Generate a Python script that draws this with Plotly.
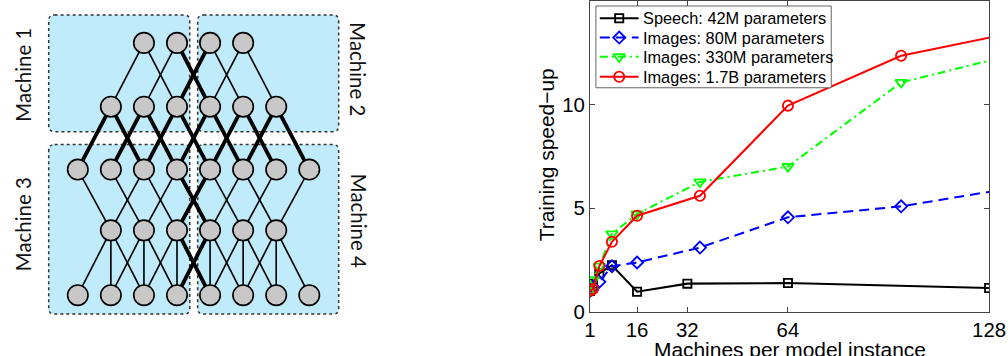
import plotly.graph_objects as go

# ---------------- chart data ----------------
speech_x = [1, 2, 4, 8, 16, 32, 64, 128]
speech_y = [1.0, 1.35, 1.85, 2.25, 0.97, 1.36, 1.39, 1.15]
img80_x = [1, 2, 4, 8, 16, 36, 64, 100, 144]
img80_y = [1.0, 1.2, 1.45, 2.2, 2.38, 3.1, 4.56, 5.09, 6.19]
img330_x = [1, 2, 4, 8, 16, 36, 64, 100, 144]
img330_y = [1.0, 1.55, 2.2, 3.76, 4.72, 6.27, 7.01, 11.07, 12.72]
img17_x = [1, 2, 4, 8, 16, 36, 64, 100, 144]
img17_y = [1.0, 1.1, 2.21, 3.38, 4.64, 5.6, 9.95, 12.36, 13.73]
series_names = ["Speech: 42M parameters", "Images: 80M parameters",
                "Images: 330M parameters", "Images: 1.7B parameters"]
x_ticks = [1, 16, 32, 64, 128]
y_ticks = [0, 5, 10, 15]
x_title = "Machines per model instance"
y_title = "Training speed\u2212up"

# ---------------- diagram data ----------------
layer_columns = [[2, 3, 4, 5], [1, 2, 3, 4, 5, 6], [0, 1, 2, 3, 4, 5, 6, 7],
                 [1, 2, 3, 4, 5, 6], [0, 1, 2, 3, 4, 5, 6, 7]]
link_offsets = [[-1, 1], [-1, 1], [-1, 1], [-1, 0, 1]]
machine_labels = ["Machine 1", "Machine 2", "Machine 3", "Machine 4"]

# ---------------- styles / geometry (in target-picture pixels) ----------------
W, H = 1008, 356
FIG_W, FIG_H = 1024, 367          # rendered size (the snapshot is scaled down to W x H)
K = 1.02                          # size compensation for fonts / markers / lines
COL_X0, COL_DX = 72.3, 33.3
ROW_Y = [42, 106, 169, 230, 295]
BOXES = [(43, 14, 185, 131), (193, 14, 335, 131), (43, 144, 185, 314), (193, 144, 335, 314)]
LABEL_POS = [(17, 74, -90), (355, 68, 90), (17, 224, -90), (355, 220, 90)]

STYLES = [
    dict(color="black", dash="solid", symbol="square-open", size=8),
    dict(color="#0000FF", dash="10px,6px", symbol="diamond-open", size=9),
    dict(color="#00FF00", dash="8px,4px,2px,4px", symbol="triangle-down-open", size=10),
    dict(color="#FF0000", dash="solid", symbol="circle-open", size=10),
]
LEG_BOX = (594, 5, 831, 87)
LEG_ROWS = [17.3, 36.7, 56.0, 76.0]
LEG_LINE = (598, 637)
LEG_TEXT_X = 639

fig = go.Figure()

thin_x, thin_y, thick_x, thick_y = [], [], [], []
for li, offs in enumerate(link_offsets):
    upper, lower = layer_columns[li], layer_columns[li + 1]
    for c in upper:
        for o in offs:
            d = c + o
            if d not in lower:
                continue
            crosses_v = min(c, d) <= 3 and max(c, d) >= 4
            crosses_h = (li == 1)
            xs = [COL_X0 + COL_DX * c, COL_X0 + COL_DX * d, None]
            ys = [ROW_Y[li], ROW_Y[li + 1], None]
            if crosses_v or crosses_h:
                thick_x += xs; thick_y += ys
            else:
                thin_x += xs; thin_y += ys

fig.add_trace(go.Scatter(x=thin_x, y=thin_y, mode="lines", xaxis="x2", yaxis="y2",
                         line=dict(color="black", width=1.6 * K), showlegend=False, hoverinfo="skip"))
fig.add_trace(go.Scatter(x=thick_x, y=thick_y, mode="lines", xaxis="x2", yaxis="y2",
                         line=dict(color="black", width=3.8 * K), showlegend=False, hoverinfo="skip"))

node_x, node_y = [], []
for li, cols in enumerate(layer_columns):
    for c in cols:
        node_x.append(COL_X0 + COL_DX * c)
        node_y.append(ROW_Y[li])
fig.add_trace(go.Scatter(x=node_x, y=node_y, mode="markers", xaxis="x2", yaxis="y2",
                         marker=dict(size=20 * K, color="#C8C8C8",
                                     line=dict(color="black", width=1.6 * K)),
                         showlegend=False, hoverinfo="skip"))


def rounded_rect(x0, y0, x1, y1, r):
    return (f"M{x0 + r},{y0} L{x1 - r},{y0} Q{x1},{y0} {x1},{y0 + r} "
            f"L{x1},{y1 - r} Q{x1},{y1} {x1 - r},{y1} L{x0 + r},{y1} "
            f"Q{x0},{y1} {x0},{y1 - r} L{x0},{y0 + r} Q{x0},{y0} {x0 + r},{y0} Z")


shapes = []
for (x0, y0, x1, y1) in BOXES:
    shapes.append(dict(type="path", path=rounded_rect(x0, y0, x1, y1, 6), xref="x2", yref="y2",
                       fillcolor="#BFEBFB", line=dict(color="#333333", width=1.5, dash="dot"),
                       layer="below"))

annotations = []
for name, (lx, ly, ang) in zip(machine_labels, LABEL_POS):
    annotations.append(dict(text=name, x=lx, y=ly, xref="x2", yref="y2", showarrow=False,
                            textangle=ang, font=dict(family="Lato", size=20 * K, color="#111111"),
                            xanchor="center", yanchor="middle"))

for xs, ys, name, st in zip([speech_x, img80_x, img330_x, img17_x],
                            [speech_y, img80_y, img330_y, img17_y], series_names, STYLES):
    fig.add_trace(go.Scatter(x=xs, y=ys, name=name, mode="lines+markers", showlegend=False,
                             line=dict(color=st["color"], width=2 * K, dash=st["dash"]),
                             marker=dict(symbol=st["symbol"], size=st["size"] * K, color=st["color"],
                                         line=dict(width=1.8 * K))))

lx0, ly0, lx1, ly1 = LEG_BOX
shapes.append(dict(type="rect", x0=lx0, y0=ly0, x1=lx1, y1=ly1, xref="x2", yref="y2",
                   fillcolor="white", line=dict(color="#666666", width=1), layer="below"))
for name, st, ry in zip(series_names, STYLES, LEG_ROWS):
    fig.add_trace(go.Scatter(x=list(LEG_LINE), y=[ry, ry], mode="lines", xaxis="x2", yaxis="y2",
                             line=dict(color=st["color"], width=2 * K, dash=st["dash"]),
                             showlegend=False, hoverinfo="skip"))
    fig.add_trace(go.Scatter(x=[(LEG_LINE[0] + LEG_LINE[1]) / 2], y=[ry], mode="markers",
                             xaxis="x2", yaxis="y2", showlegend=False, hoverinfo="skip",
                             marker=dict(symbol=st["symbol"], size=st["size"] * K, color=st["color"],
                                         line=dict(width=1.8 * K))))
    annotations.append(dict(text=name, x=LEG_TEXT_X, y=ry, xref="x2", yref="y2", showarrow=False,
                            xanchor="left", yanchor="middle",
                            font=dict(family="Liberation Sans", size=16 * K, color="black")))

annotations.append(dict(text=x_title, x=789, y=349, xref="x2", yref="y2",
                        showarrow=False, xanchor="center", yanchor="middle",
                        font=dict(family="Liberation Sans", size=20.5 * K, color="black")))
annotations.append(dict(text=y_title, x=544.5, y=154, xref="x2", yref="y2",
                        showarrow=False, xanchor="center", yanchor="middle", textangle=-90,
                        font=dict(family="Liberation Sans", size=20.5 * K, color="black")))

fig.update_layout(
    width=FIG_W, height=FIG_H, autosize=False,
    margin=dict(l=0, r=0, t=0, b=0),
    paper_bgcolor="white", plot_bgcolor="rgba(0,0,0,0)",
    shapes=shapes, annotations=annotations,
    font=dict(family="Liberation Sans", size=20 * K, color="black"),
    xaxis=dict(domain=[588 / W, 990 / W], range=[1, 128], tickvals=x_ticks,
               ticks="inside", ticklen=5, tickcolor="#444", showline=True, linecolor="#444",
               linewidth=1, mirror="ticks", showgrid=False, zeroline=False,
               tickfont=dict(size=20 * K)),
    yaxis=dict(domain=[(H - 311.7) / H, 1], range=[0, 15], tickvals=y_ticks,
               ticks="inside", ticklen=5, tickcolor="#444", showline=True, linecolor="#444",
               linewidth=1, mirror="ticks", showgrid=False, zeroline=False,
               tickfont=dict(size=20 * K)),
    xaxis2=dict(domain=[0, 1], range=[0, W], visible=False, anchor="y2"),
    yaxis2=dict(domain=[0, 1], range=[H, 0], visible=False, anchor="x2"),
    showlegend=False,
)

fig.write_html("out.html", config={"displayModeBar": False},
               post_script="document.body.style.margin='0';document.body.style.overflow='hidden';")
